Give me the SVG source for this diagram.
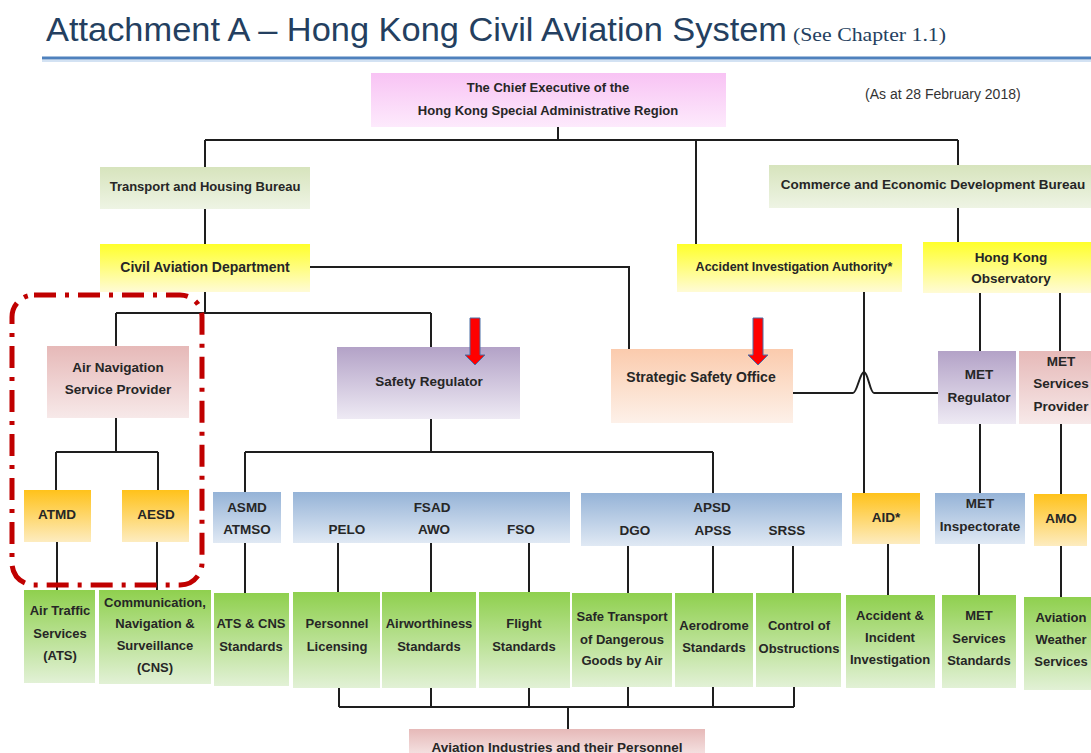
<svg xmlns="http://www.w3.org/2000/svg" width="1091" height="753" viewBox="0 0 1091 753">
<defs>
<linearGradient id="gPink" x1="0" y1="0" x2="0" y2="1"><stop offset="0" stop-color="#f8c3f4"/><stop offset="1" stop-color="#fdeafc"/></linearGradient>
<linearGradient id="gSage" x1="0" y1="0" x2="0" y2="1"><stop offset="0" stop-color="#d7e4bd"/><stop offset="1" stop-color="#eef4e4"/></linearGradient>
<linearGradient id="gYellow" x1="0" y1="0" x2="0" y2="1"><stop offset="0" stop-color="#ffff2a"/><stop offset="1" stop-color="#fffbd6"/></linearGradient>
<linearGradient id="gRose" x1="0" y1="0" x2="0" y2="1"><stop offset="0" stop-color="#e6b9b8"/><stop offset="1" stop-color="#f7e9e9"/></linearGradient>
<linearGradient id="gPurple" x1="0" y1="0" x2="0" y2="1"><stop offset="0" stop-color="#b3a2c7"/><stop offset="1" stop-color="#eeeaf4"/></linearGradient>
<linearGradient id="gPeach" x1="0" y1="0" x2="0" y2="1"><stop offset="0" stop-color="#fbcbad"/><stop offset="1" stop-color="#fdf1e9"/></linearGradient>
<linearGradient id="gOrange" x1="0" y1="0" x2="0" y2="1"><stop offset="0" stop-color="#ffc21a"/><stop offset="1" stop-color="#fdecc0"/></linearGradient>
<linearGradient id="gBlue" x1="0" y1="0" x2="0" y2="1"><stop offset="0" stop-color="#95b3d7"/><stop offset="1" stop-color="#e0e9f4"/></linearGradient>
<linearGradient id="gGreen" x1="0" y1="0" x2="0" y2="1"><stop offset="0" stop-color="#8fd04e"/><stop offset="1" stop-color="#e2f1d6"/></linearGradient>
<style>
.t{font-family:"Liberation Sans",Arial,sans-serif;font-weight:bold;fill:#262626;text-anchor:middle;font-size:13.5px}
.s12{font-size:12.5px}
.s13{font-size:13px}
.s14{font-size:14px}
.ln{fill:none;stroke:#1e1e1e;stroke-width:2}
.arr{fill:#ff0000;stroke:#4a6fa5;stroke-width:1}
</style>
</defs>
<rect width="1091" height="753" fill="#ffffff"/>
<g id="title">
<text x="46" y="41" font-family="Liberation Sans, Arial, sans-serif" font-size="33" fill="#243f60" textLength="741" lengthAdjust="spacingAndGlyphs">Attachment A – Hong Kong Civil Aviation System</text>
<text x="793" y="41" font-family="Liberation Serif, Times New Roman, serif" font-size="18" fill="#243f60" textLength="153" lengthAdjust="spacingAndGlyphs">(See Chapter 1.1)</text>
<line x1="42" y1="61" x2="1091" y2="61" stroke="#d3e2f3" stroke-width="2"/>
<line x1="42" y1="58" x2="1091" y2="58" stroke="#4f81bd" stroke-width="3"/>
<text x="865" y="99" font-family="Liberation Sans, Arial, sans-serif" font-size="14" fill="#333333">(As at 28 February 2018)</text>
</g>
<g id="connectors" class="ln">
<path d="M558,127 V140 M205,140 H958 M205,140 V167 M696,140 V244 M958,140 V165"/>
<path d="M205,209 V244 M958,208 V242 M310,267 H629 V349"/>
<path d="M205,292 V313 M116,313 H431 M116,313 V346 M431,313 V347"/>
<path d="M116,418 V452 M56,452 H158 M56,452 V490 M158,452 V490 M57,542 V590 M157,542 V590"/>
<path d="M431,419 V452 M245,452 H713 M245,452 V492 M713,452 V493"/>
<path d="M245,543 V593 M338,543 V592 M431,543 V592 M529,543 V592"/>
<path d="M628,546 V593 M713,546 V593 M793,546 V593"/>
<path d="M864,292 V493"/>
<path d="M793,393 H853 C857,393 860,372 864,372 C868,372 870,393 874,393 H938"/>
<path d="M980,293 V351 M1060,293 V351 M980,424 V493 M1061,424 V494"/>
<path d="M888,544 V595 M979,544 V595 M1061,546 V597"/>
<path d="M339,688 V707 M431,688 V707 M529,688 V707 M628,687 V707 M713,687 V707 M794,687 V707 M339,707 H794 M568,707 V729"/>
</g>
<g id="chief"><rect x="371" y="73" width="355" height="54" fill="url(#gPink)"/><text class="t s13" x="548" y="92">The Chief Executive of the</text><text class="t s13" x="548" y="115">Hong Kong Special Administrative Region</text></g>
<g id="thb"><rect x="100" y="167" width="210" height="42" fill="url(#gSage)"/><text class="t s13" x="205" y="191">Transport and Housing Bureau</text></g>
<g id="cedb"><rect x="769" y="165" width="330" height="43" fill="url(#gSage)"/><text class="t" x="933" y="189">Commerce and Economic Development Bureau</text></g>
<g id="cad"><rect x="100" y="244" width="210" height="48" fill="url(#gYellow)"/><text class="t s14" x="205" y="272">Civil Aviation Department</text></g>
<g id="aia"><rect x="677" y="244" width="225" height="48" fill="url(#gYellow)"/><text class="t s12" x="794" y="271">Accident Investigation Authority*</text></g>
<g id="hko"><rect x="923" y="242" width="175" height="51" fill="url(#gYellow)"/><text class="t" x="1011" y="262">Hong Kong</text><text class="t" x="1011" y="283">Observatory</text></g>
<g id="ansp"><rect x="47" y="346" width="142" height="72" fill="url(#gRose)"/><text class="t" x="118" y="372">Air Navigation</text><text class="t" x="118" y="394">Service Provider</text></g>
<g id="sr"><rect x="337" y="347" width="183" height="72" fill="url(#gPurple)"/><text class="t" x="429" y="386">Safety Regulator</text><path class="arr" d="M470,318 H480 V355 H485 L475,365 L465,355 H470 Z"/></g>
<g id="sso"><rect x="611" y="349" width="182" height="74" fill="url(#gPeach)"/><text class="t s14" x="701" y="382">Strategic Safety Office</text><path class="arr" d="M753,318 H763 V355 H768 L758,365 L748,355 H753 Z"/></g>
<g id="metreg"><rect x="938" y="351" width="78" height="73" fill="url(#gPurple)"/><text class="t" x="979" y="379">MET</text><text class="t" x="979" y="402">Regulator</text></g>
<g id="metsp"><rect x="1019" y="351" width="80" height="73" fill="url(#gRose)"/><text class="t" x="1061" y="366">MET</text><text class="t" x="1061" y="388">Services</text><text class="t" x="1061" y="411">Provider</text></g>
<g id="atmd"><rect x="24" y="490" width="67" height="52" fill="url(#gOrange)"/><text class="t" x="57" y="519">ATMD</text></g>
<g id="aesd"><rect x="122" y="490" width="67" height="52" fill="url(#gOrange)"/><text class="t" x="156" y="519">AESD</text></g>
<g id="asmd"><rect x="213" y="492" width="68" height="51" fill="url(#gBlue)"/><text class="t" x="247" y="512">ASMD</text><text class="t" x="247" y="534">ATMSO</text></g>
<g id="fsad"><rect x="293" y="492" width="277" height="51" fill="url(#gBlue)"/><text class="t" x="432" y="512">FSAD</text><text class="t" x="347" y="534">PELO</text><text class="t" x="434" y="534">AWO</text><text class="t" x="521" y="534">FSO</text></g>
<g id="apsd"><rect x="581" y="493" width="261" height="53" fill="url(#gBlue)"/><text class="t" x="712" y="512">APSD</text><text class="t" x="635" y="535">DGO</text><text class="t" x="713" y="535">APSS</text><text class="t" x="787" y="535">SRSS</text></g>
<g id="aid"><rect x="852" y="493" width="68" height="51" fill="url(#gOrange)"/><text class="t" x="886" y="522">AID*</text></g>
<g id="metinsp"><rect x="935" y="493" width="90" height="51" fill="url(#gBlue)"/><text class="t" x="980" y="508">MET</text><text class="t" x="980" y="531">Inspectorate</text></g>
<g id="amo"><rect x="1034" y="494" width="53" height="52" fill="url(#gOrange)"/><text class="t" x="1061" y="523">AMO</text></g>
<g id="ats"><rect x="24" y="590" width="71" height="93" fill="url(#gGreen)"/><text class="t s13" x="60" y="615">Air Traffic</text><text class="t s13" x="60" y="638">Services</text><text class="t s13" x="60" y="660">(ATS)</text></g>
<g id="cns"><rect x="99" y="590" width="112" height="94" fill="url(#gGreen)"/><text class="t s13" x="155" y="607">Communication,</text><text class="t s13" x="155" y="628">Navigation &amp;</text><text class="t s13" x="155" y="650">Surveillance</text><text class="t s13" x="155" y="672">(CNS)</text></g>
<g id="atscns"><rect x="214" y="593" width="75" height="93" fill="url(#gGreen)"/><text class="t s13" x="251" y="628">ATS &amp; CNS</text><text class="t s13" x="251" y="651">Standards</text></g>
<g id="pel"><rect x="293" y="592" width="87" height="96" fill="url(#gGreen)"/><text class="t s13" x="337" y="628">Personnel</text><text class="t s13" x="337" y="651">Licensing</text></g>
<g id="aws"><rect x="382" y="592" width="94" height="96" fill="url(#gGreen)"/><text class="t s13" x="429" y="628">Airworthiness</text><text class="t s13" x="429" y="651">Standards</text></g>
<g id="fls"><rect x="479" y="592" width="91" height="96" fill="url(#gGreen)"/><text class="t s13" x="524" y="628">Flight</text><text class="t s13" x="524" y="651">Standards</text></g>
<g id="dgs"><rect x="572" y="593" width="100" height="94" fill="url(#gGreen)"/><text class="t s13" x="622" y="621">Safe Transport</text><text class="t s13" x="622" y="644">of Dangerous</text><text class="t s13" x="622" y="665">Goods by Air</text></g>
<g id="ads"><rect x="675" y="593" width="78" height="94" fill="url(#gGreen)"/><text class="t s13" x="714" y="630">Aerodrome</text><text class="t s13" x="714" y="652">Standards</text></g>
<g id="cob"><rect x="756" y="593" width="85" height="94" fill="url(#gGreen)"/><text class="t s13" x="799" y="630">Control of</text><text class="t s13" x="799" y="653">Obstructions</text></g>
<g id="aii"><rect x="846" y="595" width="89" height="93" fill="url(#gGreen)"/><text class="t s13" x="890" y="620">Accident &amp;</text><text class="t s13" x="890" y="642">Incident</text><text class="t s13" x="890" y="664">Investigation</text></g>
<g id="mss"><rect x="942" y="595" width="74" height="93" fill="url(#gGreen)"/><text class="t s13" x="979" y="620">MET</text><text class="t s13" x="979" y="643">Services</text><text class="t s13" x="979" y="665">Standards</text></g>
<g id="awx"><rect x="1024" y="597" width="80" height="93" fill="url(#gGreen)"/><text class="t s13" x="1061" y="622">Aviation</text><text class="t s13" x="1061" y="644">Weather</text><text class="t s13" x="1061" y="666">Services</text></g>
<g id="avind"><rect x="409" y="729" width="296" height="30" fill="url(#gRose)"/><text class="t" x="557" y="752">Aviation Industries and their Personnel</text></g>
<g id="highlight"><rect x="12" y="295" width="190" height="290" rx="22" fill="none" stroke="#c00000" stroke-width="5" stroke-dasharray="22 9 4 9"/></g>
</svg>
